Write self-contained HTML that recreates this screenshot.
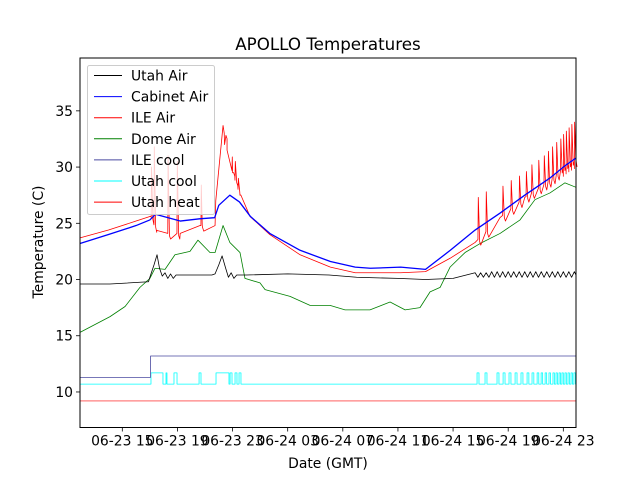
<!DOCTYPE html>
<html><head><meta charset="utf-8"><style>
body{margin:0;background:#fff}
svg text{font-family:"DejaVu Sans","Liberation Sans",sans-serif}
</style></head><body>
<svg id="chart" width="640" height="480" viewBox="0 0 640 480" xmlns="http://www.w3.org/2000/svg">
<rect width="640" height="480" fill="#fff"/>
<text x="328" y="50" font-size="16.7" text-anchor="middle">APOLLO Temperatures</text>
<text x="328" y="468" font-size="13.9" text-anchor="middle">Date (GMT)</text>
<text transform="translate(43,242) rotate(-90)" font-size="13.9" text-anchor="middle">Temperature (C)</text>
<g id="series"></g>
<g id="axes"></g>
<g id="legend"></g>
</svg>
<script>
// ---- data (hours since 06-23 00:00 GMT, temperatures in C) ----
const xTickHours = [15, 19, 23, 27, 31, 35, 39, 43, 47];
const xTickLabels = ["06-23 15","06-23 19","06-23 23","06-24 03","06-24 07","06-24 11","06-24 15","06-24 19","06-24 23"];
const yTickValues = [10, 15, 20, 25, 30, 35];

const utahAirT = [11.93,14.1,16.9,17.0,17.3,17.52,17.7,17.9,18.1,18.3,18.5,18.7,18.9,19.5,20.5,21.5,21.73,22.0,22.24,22.5,22.7,22.9,23.1,23.3,24.0,27.0,30.0,32.0,35.0,37.0,39.0,40.6,
 40.8,41.0,41.2,41.4,41.6,41.8,42.0,42.2,42.4,42.6,42.8,43.0,43.2,43.4,43.6,43.8,44.0,44.2,44.4,44.6,44.8,45.0,45.2,45.4,45.6,45.8,46.0,46.2,46.4,46.6,46.8,47.0,47.2,47.4,47.6,47.8,47.92];
const utahAirV = [19.6,19.6,19.8,20.2,21.3,22.2,21.0,20.3,20.6,20.1,20.5,20.1,20.4,20.4,20.4,20.4,20.5,21.3,22.1,21.0,20.2,20.6,20.1,20.4,20.4,20.5,20.4,20.2,20.1,20.0,20.1,20.6,
 20.2,20.6,20.2,20.6,20.2,20.7,20.2,20.7,20.2,20.7,20.2,20.7,20.2,20.7,20.2,20.7,20.2,20.7,20.2,20.7,20.2,20.7,20.2,20.7,20.2,20.7,20.2,20.7,20.2,20.7,20.2,20.7,20.2,20.7,20.2,20.7,20.4];

const cabinetAirT = [11.93,14.0,16.0,17.0,17.4,18.3,19.2,20.6,21.7,22.0,22.8,23.5,24.3,25.7,27.9,30.1,31.9,33.0,35.2,37.0,38.8,40.6,42.4,44.2,46.0,47.1,47.92];
const cabinetAirV = [23.2,24.0,24.8,25.3,25.8,25.5,25.2,25.4,25.5,26.6,27.5,26.9,25.6,24.1,22.6,21.6,21.1,21.0,21.1,20.9,22.6,24.4,25.9,27.5,29.0,30.1,30.8];

const ileAirT = [11.93,14.0,16.0,17.0,17.08,17.5,18.3,19.2,20.64,20.8,21.73,21.78,22.31,22.6,23.0,23.54,24.27,25.7,27.9,30.1,31.9,35.2,37.0,38.8,40.6,42.4,44.2,46.0,47.1,47.92];
const ileAirV = [23.7,24.4,25.2,25.6,25.6,24.2,24.1,24.1,24.8,24.8,24.8,27.0,33.7,31.5,29.5,27.5,25.6,24.0,22.2,21.1,20.6,20.6,20.7,21.9,23.3,25.5,27.3,28.8,30.0,30.6];
const heatSpikeT = [17.1,17.3,18.3,18.97,20.71,22.4,22.96,23.18,23.4,40.81,41.39,42.6,43.2,43.8,44.3,44.7,45.2,45.6,45.9,46.2,46.5,46.8,47.0,47.2,47.4,47.6,47.8];
const heatSpikeV = [30.0,31.8,31.0,30.5,28.4,32.0,30.9,30.5,29.0,27.3,27.8,28.3,28.8,29.2,29.6,30.2,30.6,31.0,31.4,31.8,32.2,32.5,32.9,33.2,33.5,33.8,34.0];

const domeAirT = [11.93,14.11,15.2,16.28,17.0,17.37,18.1,18.82,19.91,20.49,21.36,21.73,22.31,22.8,23.54,23.9,24.99,25.36,27.17,28.62,30.07,31.16,32.97,34.43,35.52,36.6,37.33,38.06,38.78,39.87,40.96,42.41,43.86,44.94,46.03,47.12,47.92];
const domeAirV = [15.3,16.7,17.6,19.3,20.1,21.0,20.9,22.2,22.5,23.5,22.4,22.4,24.8,23.3,22.4,20.1,19.7,19.1,18.5,17.7,17.7,17.3,17.3,18.0,17.3,17.5,18.9,19.3,21.1,22.4,23.2,24.1,25.3,27.1,27.7,28.6,28.2];

const ileCoolT = [11.93,17.05,17.05,47.92];
const ileCoolV = [11.3,11.3,13.2,13.2];

const utahCoolLow = 10.7, utahCoolHigh = 11.7;
const utahCoolOn  = [17.08,18.17,18.75,20.57,21.8,22.82,23.18,23.47,40.74,41.32,42.19,42.63,43.06,43.5,43.93,44.37,44.73,45.1,45.39,45.68,45.96,46.25,46.47,46.69,46.9,47.12,47.34,47.56,47.77];
const utahCoolOff = [17.95,18.24,18.97,20.71,22.74,22.96,23.32,23.61,40.88,41.46,42.33,42.77,43.2,43.64,44.07,44.5,44.86,45.22,45.5,45.79,46.07,46.35,46.57,46.79,47.0,47.22,47.44,47.66,47.88];

const utahHeatT = [11.93,47.92];
const utahHeatV = [9.2,9.2];

// ---- axes ----
const L=80,R=576,T=58,B=427.5;
const xMin=11.93,xMax=47.92,yMin=6.84,yMax=39.7;
const X=h=>L+(h-xMin)/(xMax-xMin)*(R-L);
const Y=v=>B-(v-yMin)/(yMax-yMin)*(B-T);
const NS="http://www.w3.org/2000/svg";
function mk(tag,attrs,parent){const e=document.createElementNS(NS,tag);for(const k in attrs)e.setAttribute(k,attrs[k]);parent.appendChild(e);return e;}
const gS=document.getElementById('series'),gA=document.getElementById('axes'),gL=document.getElementById('legend');

function mergeSpikes(t,v,st,sv){
  const pts=t.map((h,i)=>[h,v[i]]);
  const interp=h=>{for(let i=1;i<t.length;i++){if(t[i]>=h){const f=(h-t[i-1])/((t[i]-t[i-1])||1);return v[i-1]+f*(v[i]-v[i-1]);}}return v[v.length-1];};
  st.forEach((h,i)=>{const b=interp(h);pts.push([h-0.005,b]);pts.push([h+0.02,sv[i]]);pts.push([h+0.12,b-0.2]);pts.push([h+0.2,b-0.5]);});
  pts.sort((a,b)=>a[0]-b[0]);
  return pts;
}
function poly(pts,color,w,name){
  const d=pts.map(p=>X(p[0]).toFixed(2)+','+Y(p[1]).toFixed(2)).join(' ');
  const el=mk('polyline',{points:d,fill:'none',stroke:color,'stroke-width':w,'stroke-linejoin':'round'},gS);
  
  
}
const zip=(t,v)=>t.map((h,i)=>[h,v[i]]);
poly(zip(utahHeatT,utahHeatV),'#ff0000',0.6,'utah-heat-line');
const cool=[[xMin,utahCoolLow]];
utahCoolOn.forEach((h,i)=>{cool.push([h,utahCoolLow],[h,utahCoolHigh],[utahCoolOff[i],utahCoolHigh],[utahCoolOff[i],utahCoolLow]);});
cool.push([xMax,utahCoolLow]);
poly(cool,'#00ffff',0.8,'utah-cool-line');
poly(zip(ileCoolT,ileCoolV),'#4a4aa0',0.8,'ile-cool-line');
poly(zip(domeAirT,domeAirV),'#008000',0.8,'dome-air-line');
poly(zip(utahAirT,utahAirV),'#000000',0.8,'utah-air-line');
poly(mergeSpikes(ileAirT,ileAirV,heatSpikeT,heatSpikeV),'#ff0000',0.8,'ile-air-line');
poly(zip(cabinetAirT,cabinetAirV),'#0000ff',1.3,'cabinet-air-line');

const frame=mk('rect',{x:L,y:T,width:R-L,height:B-T,fill:'none',stroke:'#000','stroke-width':1},gA);


xTickHours.forEach((h,i)=>{
  const x=X(h);
  const tk=mk('line',{x1:x,x2:x,y1:B,y2:B+4,stroke:'#000','stroke-width':0.8},gA);
  
  
  const tx=mk('text',{x:x,y:B+18,'font-size':13.9,'text-anchor':'middle'},gA);
  tx.textContent=xTickLabels[i];
  
  
});
yTickValues.forEach(v=>{
  const y=Y(v);
  const tk=mk('line',{x1:L-4,x2:L,y1:y,y2:y,stroke:'#000','stroke-width':0.8},gA);
  
  
  const tx=mk('text',{x:L-7,y:y+5,'font-size':13.9,'text-anchor':'end'},gA);
  tx.textContent=String(v);
  
  
});

// ---- legend ----
const legNames=["Utah Air","Cabinet Air","ILE Air","Dome Air","ILE cool","Utah cool","Utah heat"];
const legColors=["#000000","#0000ff","#ff0000","#008000","#4a4aa0","#00ffff","#ff0000"];
const box=mk('rect',{x:87.5,y:65.5,width:127,height:149,rx:2,fill:'#fff','fill-opacity':0.8,stroke:'#ccc','stroke-width':1},gL);


legNames.forEach((n,i)=>{
  const y=75.5+i*21.1;
  const g=mk('g',{},gL);
  
  
  mk('line',{x1:94,x2:122,y1:y,y2:y,stroke:legColors[i],'stroke-width':1},g);
  const t=mk('text',{x:131,y:y+5,'font-size':13.9},g);
  t.textContent=n;
});
</script>
</body></html>
